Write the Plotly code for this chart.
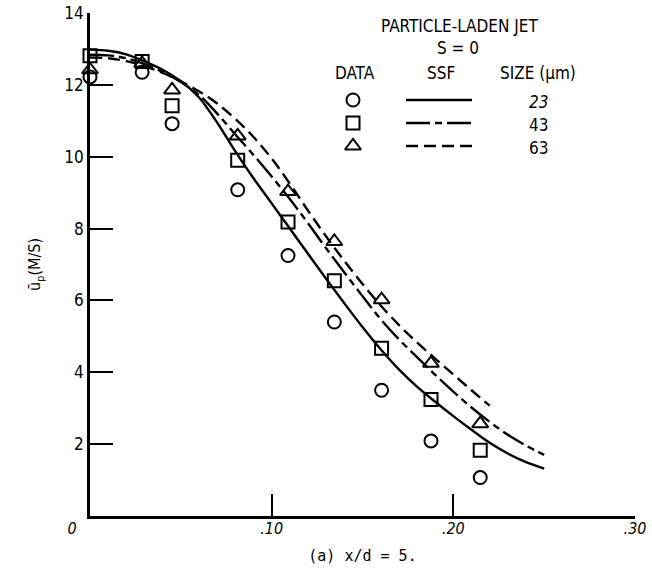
import plotly.graph_objects as go

# ---------------- data ----------------
# measured data (radial coordinate, mean particle velocity)
x_data = [0.0, 0.0287, 0.0452, 0.0813, 0.1090, 0.1345, 0.1605, 0.1877, 0.2148]
u_23 = [12.22, 12.35, 10.92, 9.08, 7.25, 5.40, 3.50, 2.09, 1.07]
u_43 = [12.81, 12.65, 11.42, 9.90, 8.18, 6.55, 4.67, 3.24, 1.83]
u_63 = [12.42, 12.60, 11.86, 10.58, 9.03, 7.64, 6.02, 4.25, 2.57]

# SSF predictions
x_ssf = [0.00, 0.01, 0.02, 0.03, 0.04, 0.05, 0.06, 0.07, 0.08, 0.09, 0.10, 0.11, 0.12,
         0.13, 0.14, 0.15, 0.16, 0.17, 0.18, 0.19, 0.20, 0.21, 0.22, 0.23, 0.24, 0.25]
ssf_23 = [12.98, 12.95, 12.85, 12.65, 12.42, 12.10, 11.65, 10.95, 10.15, 9.40, 8.70, 8.00, 7.30,
          6.60, 5.92, 5.26, 4.64, 4.08, 3.60, 3.18, 2.78, 2.40, 2.04, 1.74, 1.50, 1.32]
ssf_43 = [12.84, 12.82, 12.74, 12.58, 12.36, 12.08, 11.72, 11.20, 10.62, 10.05, 9.45, 8.82, 8.15,
          7.45, 6.78, 6.12, 5.48, 4.92, 4.42, 3.93, 3.46, 3.02, 2.62, 2.26, 1.96, 1.70]
x_ssf63 = [0.00, 0.01, 0.02, 0.03, 0.04, 0.05, 0.06, 0.07, 0.08, 0.09, 0.10, 0.11, 0.12,
           0.13, 0.14, 0.15, 0.16, 0.17, 0.18, 0.19, 0.20, 0.21, 0.22]
ssf_63 = [12.76, 12.74, 12.66, 12.52, 12.33, 12.10, 11.82, 11.48, 11.05, 10.55, 9.95, 9.25, 8.50,
          7.78, 7.10, 6.46, 5.86, 5.32, 4.83, 4.38, 3.94, 3.50, 3.07]

# ticks
x_tickvals = [0, 0.10, 0.20, 0.30]
x_ticktext = ["0\u2002\u2002\u2002\u2002\u2002", ".10", ".20", ".30"]
y_tickvals = [2, 4, 6, 8, 10, 12, 14]
y_ticktext = ["2", "4", "6", "8", "10", "12", "14"]

sizes = ["23", "43", "63"]

# ---------------- styles ----------------
NARROW = "Liberation Sans Narrow, DejaVu Sans Condensed, Arial Narrow, sans-serif"
MONO = "DejaVu Sans Mono, monospace"
BLK = "black"
LW = 2.4
DASHES = ["solid", "24px,5px,7px,5px", "12px,6px"]
SYMBOLS = ["circle-open", "square-open", "triangle-up-open"]
MSIZE = [13, 13, 14]

fig = go.Figure()

# model curves
for xs, ys, dash in [(x_ssf, ssf_23, DASHES[0]), (x_ssf, ssf_43, DASHES[1]), (x_ssf63, ssf_63, DASHES[2])]:
    fig.add_trace(go.Scatter(x=xs, y=ys, mode="lines", line=dict(color=BLK, width=LW, dash=dash, shape="spline"),
                             showlegend=False, hoverinfo="skip"))

# data markers
for ys, sym, ms in zip([u_23, u_43, u_63], SYMBOLS, MSIZE):
    fig.add_trace(go.Scatter(x=x_data, y=ys, mode="markers",
                             marker=dict(symbol=sym, size=ms, color=BLK, line=dict(color=BLK, width=2)),
                             showlegend=False, cliponaxis=False))

# -------- legend key (drawn on a pixel-like overlay axis) --------
KEY_SYM_X = 353
KEY_LINE_X = [406, 472]
KEY_ROWS_Y = [100, 123, 146]
for sym, ms, dash, yk in zip(SYMBOLS, MSIZE, DASHES, KEY_ROWS_Y):
    fig.add_trace(go.Scatter(x=[KEY_SYM_X], y=[yk], xaxis="x2", yaxis="y2", mode="markers",
                             marker=dict(symbol=sym, size=ms, color=BLK, line=dict(color=BLK, width=2)),
                             showlegend=False, hoverinfo="skip", cliponaxis=False))
    fig.add_trace(go.Scatter(x=KEY_LINE_X, y=[yk, yk], xaxis="x2", yaxis="y2", mode="lines",
                             line=dict(color=BLK, width=LW, dash=dash),
                             showlegend=False, hoverinfo="skip", cliponaxis=False))

ann = []
def txt(s, x, y, size=17, font=NARROW, style="normal"):
    ann.append(dict(text=s, x=x, y=y, xref="x2", yref="y2", showarrow=False,
                    font=dict(family=font, size=size, color=BLK, style=style),
                    xanchor="center", yanchor="middle"))

txt("PARTICLE-LADEN JET", 459, 26)
txt("S = 0", 458, 48)
txt("DATA", 355, 73)
txt("SSF", 441, 73)
txt("SIZE (\u03bcm)", 538, 73)
for s, yk, st in zip(sizes, KEY_ROWS_Y, ["italic", "normal", "normal"]):
    txt(s, 538, yk + 2, style=st)

fig.update_layout(
    width=652, height=575,
    margin=dict(l=90, r=17, t=13, b=59),
    paper_bgcolor="white", plot_bgcolor="white",
    showlegend=False,
    annotations=ann,
    xaxis=dict(range=[0, 0.30], tickvals=x_tickvals, ticktext=x_ticktext, automargin=False,
               ticks="inside", ticklen=22, tickwidth=2.4, tickcolor=BLK,
               showline=True, linewidth=2.6, linecolor=BLK,
               showgrid=False, zeroline=False, ticklabelstandoff=-4, ticklabeloverflow="allow",
               tickfont=dict(family=NARROW, size=16, color=BLK, style="italic"),
               title=dict(text="(a) x/d = 5.", font=dict(family=MONO, size=15, color=BLK), standoff=14)),
    yaxis=dict(range=[0, 14], tickvals=y_tickvals, ticktext=y_ticktext, automargin=False,
               ticks="inside", ticklen=23, tickwidth=2.4, tickcolor=BLK,
               showline=True, linewidth=2.6, linecolor=BLK,
               showgrid=False, zeroline=False, ticklabeloverflow="allow",
               tickfont=dict(family=NARROW, size=17, color=BLK),
               title=dict(text="\u016b<sub>p</sub>(M/S)", font=dict(family=NARROW, size=16, color=BLK), standoff=20)),
    xaxis2=dict(overlaying="x", range=[90, 635], visible=False, fixedrange=True, automargin=False),
    yaxis2=dict(overlaying="y", range=[516, 13], visible=False, fixedrange=True, automargin=False),
)

# remove the page's default body margin so the 652x575 figure fills the window exactly
fig.write_html("out.html", config={"displayModeBar": False},
               post_script="document.body.style.margin='0px';document.body.style.overflow='hidden';")
